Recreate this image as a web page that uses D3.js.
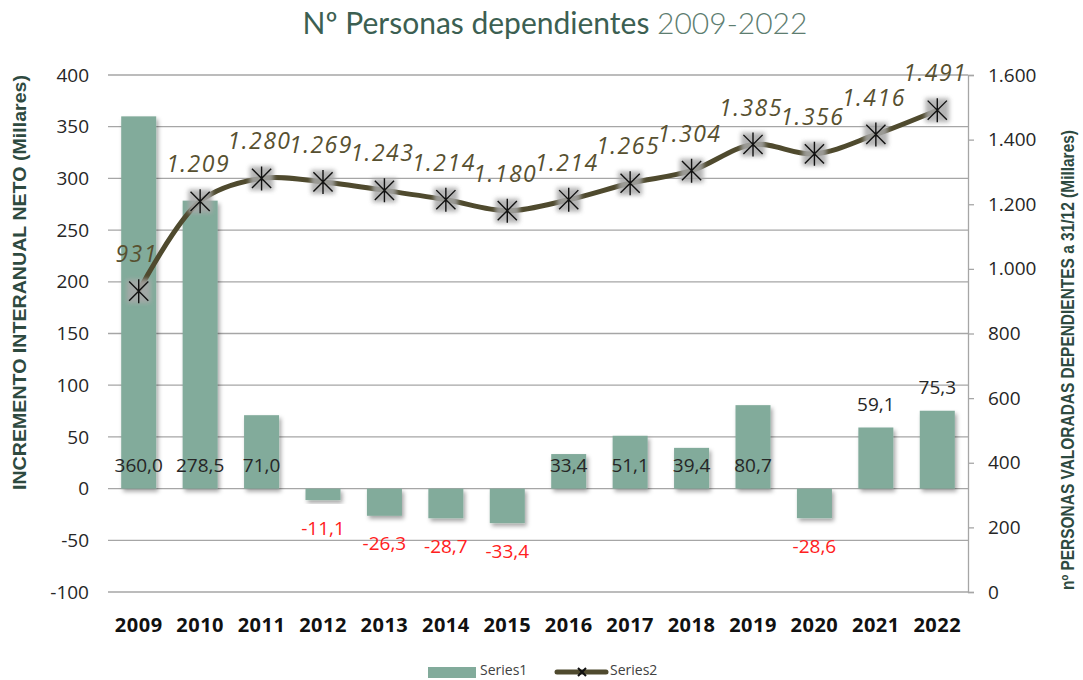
<!DOCTYPE html>
<html>
<head>
<meta charset="utf-8">
<script src="https://cdn.jsdelivr.net/npm/d3@7"></script>
<style>
  body { margin: 0; background: #fff; }
  svg { display: block; }
</style>
</head>
<body>
<div id="chart"></div>
<script>
// Data
const years = ["2009", "2010", "2011", "2012", "2013", "2014", "2015", "2016", "2017", "2018", "2019", "2020", "2021", "2022"];
const incremento = [360.0, 278.5, 71.0, -11.1, -26.3, -28.7, -33.4, 33.4, 51.1, 39.4, 80.7, -28.6, 59.1, 75.3];
const dependientes = [931, 1209, 1280, 1269, 1243, 1214, 1180, 1214, 1265, 1304, 1385, 1356, 1416, 1491];
const leftTicks = [-100, -50, 0, 50, 100, 150, 200, 250, 300, 350, 400];
const rightTicks = [0, 200, 400, 600, 800, 1000, 1200, 1400, 1600];
const labelsAboveBar = ["2021", "2022"]; // bar labels drawn above the bar end

const W = 1083, H = 680;
const plot = { left: 108, right: 968, top: 75, bottom: 592 };

const svg = d3.select("#chart").append("svg").attr("width", W).attr("height", H);

// filters
const defs = svg.append("defs");
const sh = defs.append("filter").attr("id", "barShadow")
  .attr("x", "-20%").attr("y", "-20%").attr("width", "150%").attr("height", "150%");
sh.append("feDropShadow").attr("dx", 2).attr("dy", 3).attr("stdDeviation", 2)
  .attr("flood-color", "#000").attr("flood-opacity", 0.35);
const blur = defs.append("filter").attr("id", "markBlur")
  .attr("x", "-50%").attr("y", "-50%").attr("width", "200%").attr("height", "200%");
blur.append("feGaussianBlur").attr("stdDeviation", 2.2);

// Spanish number formats (plain hyphen as minus sign)
const es = d3.formatLocale({ decimal: ",", thousands: ".", grouping: [3], currency: ["", "€"], minus: "-" });
const fmt1 = es.format(".1f");
const fmtInt = es.format(",d");

// Scales
const x = d3.scaleBand().domain(years).range([plot.left, plot.right]).paddingInner(0.43).paddingOuter(0.215);
const xc = d => x(d) + x.bandwidth() / 2;
const yL = d3.scaleLinear().domain([-100, 400]).range([plot.bottom, plot.top]);
const yR = d3.scaleLinear().domain([0, 1600]).range([plot.bottom, plot.top]);

// Gridlines
svg.append("g").selectAll("line").data(leftTicks).join("line")
  .attr("x1", plot.left).attr("x2", plot.right)
  .attr("y1", d => yL(d)).attr("y2", d => yL(d))
  .attr("stroke", "#a6a6a6").attr("stroke-width", 1.3);

// Left axis labels
svg.append("g").selectAll("text").data(leftTicks).join("text")
  .attr("x", 89).attr("y", d => yL(d)).attr("dy", "0.35em")
  .attr("text-anchor", "end")
  .attr("font-family", "Open Sans, sans-serif").attr("font-size", 19).attr("fill", "#262626")
  .text(d => d);

// Right axis
const rAxis = svg.append("g").attr("transform", `translate(${plot.right},0)`)
  .call(d3.axisRight(yR).tickValues(rightTicks).tickSize(6).tickPadding(14).tickFormat(d => fmtInt(d)));
rAxis.select(".domain").attr("stroke", "#a6a6a6").attr("stroke-width", 1.3);
rAxis.selectAll(".tick line").attr("stroke", "#a6a6a6").attr("stroke-width", 1.3);
rAxis.selectAll(".tick text").attr("font-family", "Open Sans, sans-serif").attr("font-size", 19).attr("fill", "#262626");

// Bars
svg.append("g").selectAll("rect").data(incremento).join("rect")
  .attr("x", (d, i) => x(years[i]))
  .attr("width", x.bandwidth())
  .attr("y", d => yL(Math.max(0, d)))
  .attr("height", d => Math.abs(yL(d) - yL(0)))
  .attr("fill", "#82ab9b")
  .attr("filter", "url(#barShadow)");

// Bar labels
svg.append("g").selectAll("text").data(incremento).join("text")
  .attr("x", (d, i) => xc(years[i]))
  .attr("y", (d, i) => {
    if (d < 0) return yL(d) + 28;
    if (labelsAboveBar.includes(years[i])) return yL(d) - 23;
    return yL(0) - 23;
  })
  .attr("dy", "0.35em").attr("text-anchor", "middle")
  .attr("font-family", "Open Sans, sans-serif").attr("font-size", 19)
  .attr("fill", d => d < 0 ? "#ff2020" : "#262626")
  .text(d => fmt1(d));

// Line
const lineGen = d3.line()
  .x((d, i) => xc(years[i]))
  .y(d => yR(d))
  .curve(d3.curveCatmullRom.alpha(0.5));
svg.append("path").datum(dependientes)
  .attr("d", lineGen).attr("fill", "none")
  .attr("stroke", "#4f4a2e").attr("stroke-width", 5).attr("stroke-linecap", "round");

// Markers
function marker(g) {
  g.append("rect").attr("x", -12).attr("y", -12).attr("width", 24).attr("height", 24)
    .attr("fill", "#a8a8a8").attr("opacity", 0.85).attr("filter", "url(#markBlur)");
  const p = 12;
  g.append("path")
    .attr("d", `M0,${-p}V${p}M${-p * 0.8},${-p * 0.8}L${p * 0.8},${p * 0.8}M${p * 0.8},${-p * 0.8}L${-p * 0.8},${p * 0.8}`)
    .attr("stroke", "#111").attr("stroke-width", 1.4).attr("fill", "none");
}
svg.append("g").selectAll("g").data(dependientes).join("g")
  .attr("transform", (d, i) => `translate(${xc(years[i])},${yR(d)})`)
  .each(function () { marker(d3.select(this)); });

// Line labels
svg.append("g").selectAll("text").data(dependientes).join("text")
  .attr("x", (d, i) => xc(years[i]) - 2)
  .attr("y", d => yR(d) - 37)
  .attr("dy", "0.35em").attr("text-anchor", "middle")
  .attr("font-family", "Open Sans, sans-serif").attr("font-style", "italic").attr("font-size", 23)
  .attr("letter-spacing", 1.5)
  .attr("fill", "#575030")
  .text(d => fmtInt(d));

// X labels
svg.append("g").selectAll("text").data(years).join("text")
  .attr("x", d => xc(d)).attr("y", 625).attr("dy", "0.35em")
  .attr("text-anchor", "middle")
  .attr("font-family", "Open Sans, sans-serif").attr("font-weight", "bold").attr("font-size", 20)
  .attr("letter-spacing", 0.5)
  .attr("fill", "#111")
  .text(d => d);

// Title
const title = svg.append("text").attr("x", 555).attr("y", 34).attr("text-anchor", "middle")
  .attr("font-family", "Lato, sans-serif").attr("font-size", 30).attr("fill", "#3c5f52");
title.append("tspan").text("Nº Personas dependientes ");
title.append("tspan").attr("fill", "#5d7d70").attr("font-weight", 300).text("2009-2022");

// Axis titles (condensed to the reference length)
svg.append("text")
  .attr("transform", `translate(26,${(75 + 490) / 2}) rotate(-90)`)
  .attr("text-anchor", "middle")
  .attr("font-family", "Liberation Sans, Arial, sans-serif").attr("font-size", 19).attr("font-weight", "bold")
  .attr("textLength", 415).attr("lengthAdjust", "spacingAndGlyphs")
  .attr("fill", "#2e4a40")
  .text("INCREMENTO INTERANUAL NETO (Millares)");
svg.append("text")
  .attr("transform", `translate(1074,${(130 + 590) / 2}) rotate(-90)`)
  .attr("text-anchor", "middle")
  .attr("font-family", "Liberation Sans, Arial, sans-serif").attr("font-size", 18).attr("font-weight", "bold")
  .attr("textLength", 460).attr("lengthAdjust", "spacingAndGlyphs")
  .attr("fill", "#2e4a40")
  .text("nº PERSONAS VALORADAS DEPENDIENTES a 31/12 (Millares)");

// Legend
const lg = svg.append("g").attr("font-family", "Open Sans, sans-serif").attr("font-size", 14).attr("fill", "#404040");
lg.append("rect").attr("x", 428).attr("y", 667).attr("width", 48).attr("height", 11).attr("fill", "#82ab9b");
lg.append("text").attr("x", 480).attr("y", 670).attr("dy", "0.35em").text("Series1");
lg.append("line").attr("x1", 557).attr("x2", 606).attr("y1", 672).attr("y2", 672)
  .attr("stroke", "#4f4a2e").attr("stroke-width", 5).attr("stroke-linecap", "round");
lg.append("path").attr("d", "M578,668L586,676M586,668L578,676").attr("stroke", "#111").attr("stroke-width", 2);
lg.append("text").attr("x", 610).attr("y", 670).attr("dy", "0.35em").text("Series2");
</script>
</body>
</html>
